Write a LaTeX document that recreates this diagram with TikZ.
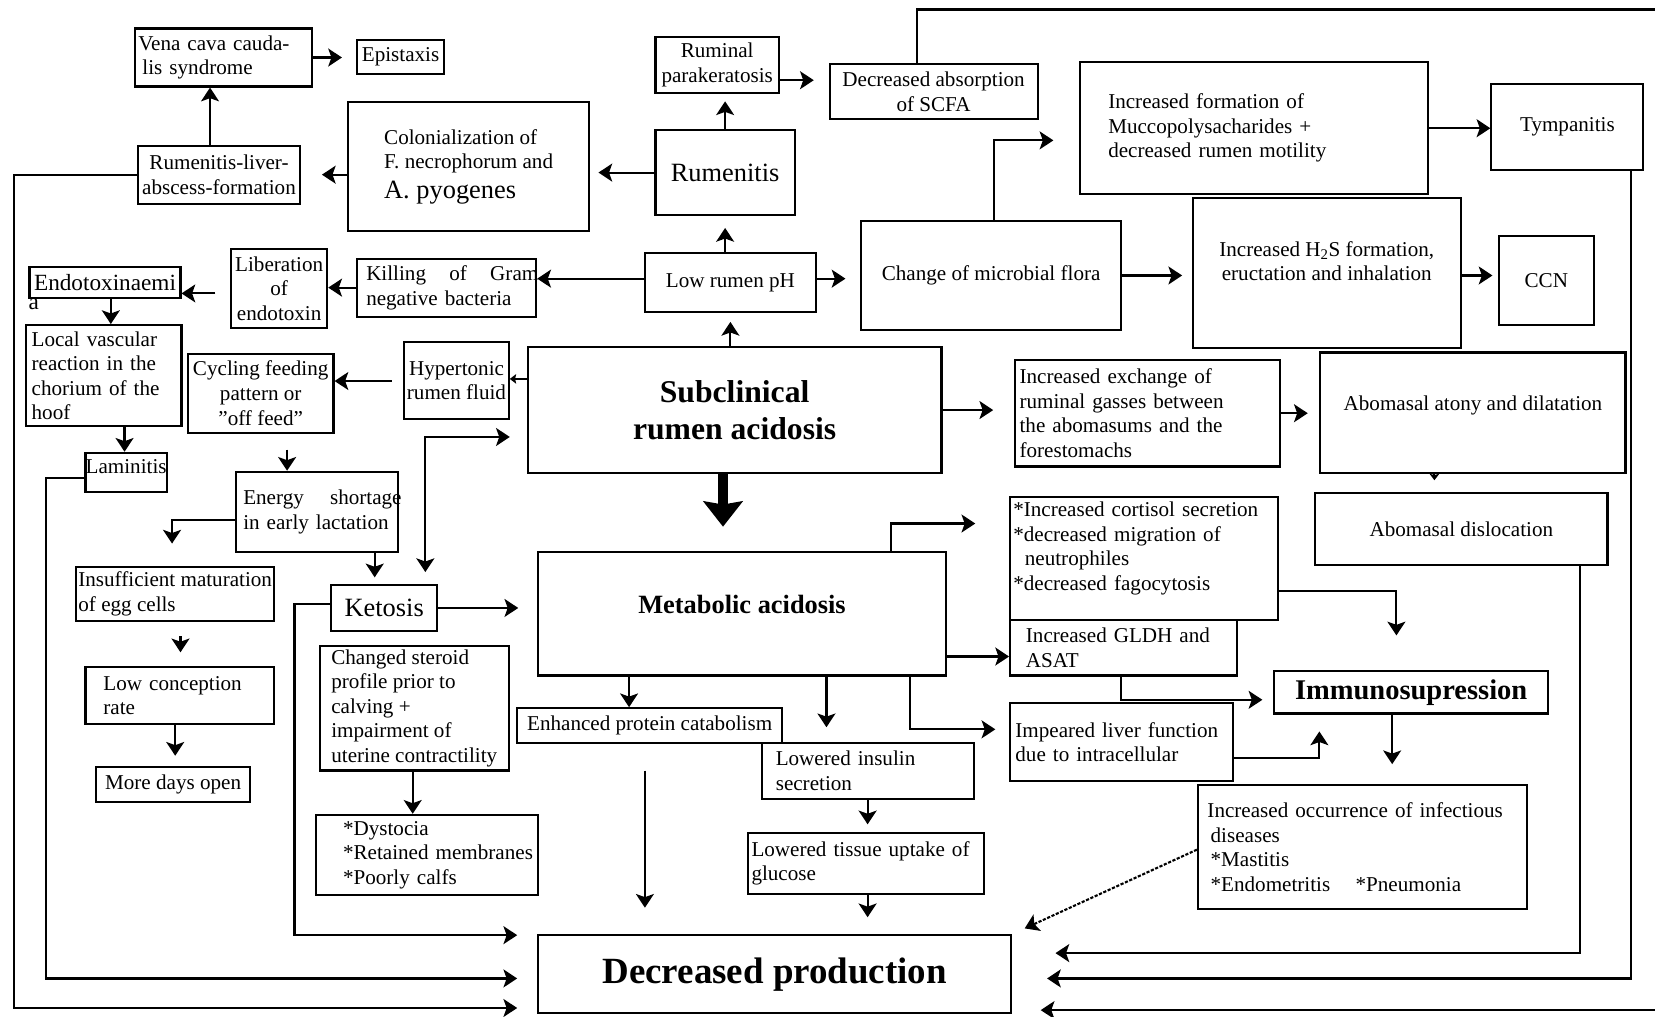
\documentclass[tikz,border=0pt]{standalone}
\usepackage{fontspec}
\setmainfont{Liberation Serif}
\usetikzlibrary{arrows.meta}

\begin{document}
\begin{tikzpicture}[x=1pt, y=-1pt]
    \tikzstyle{box} = [rectangle, draw=black, line width=2pt, inner xsep=2pt, inner ysep=1pt,
                       align=center, font=\fontsize{20}{23.3}\selectfont]
    \tikzstyle{big} = [font=\fontsize{25}{29}\selectfont]
    \tikzstyle{arrowline} = [-{Stealth[length=13pt, width=17pt, inset=3pt]}, line width=2pt]
    \tikzstyle{twoway} = [{Stealth[length=13pt, width=17pt, inset=3pt]}-{Stealth[length=13pt, width=17pt, inset=3pt]}, line width=2pt]
    \tikzstyle{smalltip} = [-{Stealth[length=6pt, width=9pt, inset=1pt]}, line width=2pt]

    \clip (0,0) rectangle (1568,963);

    % Top row
    \node[box, align=left, text width=162pt, inner xsep=3pt, minimum height=55pt] (vena) at (212,54.5) {Vena cava cauda-\\\hspace*{4pt}lis syndrome};
    \node[box, minimum width=83pt, minimum height=32pt] (epist) at (379.5,54) {Epistaxis};
    \node[box, minimum width=117pt, minimum height=53pt] (parak) at (679.5,61.5) {Ruminal\\parakeratosis};
    \node[box, minimum width=197pt, minimum height=52pt] (absorp) at (884.5,87) {Decreased absorption\\of SCFA};
    \node[box, align=left, text width=276pt, inner xsep=27pt, minimum height=125pt] (mucco) at (1188,121.5) {Increased formation of\\Muccopolysacharides +\\decreased rumen motility};
    \node[box, minimum width=144pt, minimum height=81pt] (tymp) at (1485,120.5) {Tympanitis};

    % Rumen
    \node[box, minimum width=153pt, minimum height=55pt] (liver) at (207.5,165.5) {Rumenitis-liver-\\abscess-formation};
    \node[box, align=left, minimum width=228pt, minimum height=122pt] (colon) at (444,158) {Colonialization of\\F. necrophorum and\\[5pt]{\fontsize{25}{29}\selectfont A. pyogenes}};
    \node[box, big, minimum width=132pt, minimum height=81pt] (rumen) at (687,163.5) {Rumenitis};
    \node[box, minimum width=246pt, minimum height=104pt] (flora) at (939,261) {Change of microbial flora};
    \node[box, minimum width=254pt, minimum height=142pt] (h2s) at (1257,259) {Increased H\textsubscript{2}S formation,\\eructation and inhalation\\\mbox{}};
    \node[box, minimum width=90pt, minimum height=84pt] (ccn) at (1465,266) {CCN};

    % Endotoxin
    \node[box, font=\fontsize{22}{25}\selectfont, minimum width=143pt, minimum height=29pt,
          label={[anchor=north west, inner sep=0pt, font=\fontsize{22}{25}\selectfont]south west:a}] (endo) at (99.5,267.5) {Endotoxinaemi};
    \node[box, minimum width=91pt, minimum height=75pt, inner xsep=1pt] (lib) at (264.5,273.5) {Liberation\\of\\endotoxin};
    \node[box, align=left, text width=152pt, inner xsep=9pt, minimum height=55pt] (kill) at (423,272.5) {\makebox[163pt][s]{Killing\hfill of\hfill Gram}\\negative bacteria};
    \node[box, minimum width=162pt, minimum height=56pt] (lowph) at (692,268) {Low rumen pH};

    % Left side
    \node[box, align=left, text width=137pt, inner xsep=5pt, minimum height=96pt] (vasc) at (98.5,356) {Local vascular\\reaction in the\\chorium of the\\hoof};
    \node[box, minimum width=99pt, minimum height=73pt, inner xsep=1pt] (hyper) at (432.5,360.5) {Hypertonic\\rumen fluid};
    \node[box, minimum width=138pt, minimum height=75pt, inner xsep=1pt] (cycle) at (247,372.5) {Cycling feeding\\pattern or\\”off feed”};
    \node[box, minimum width=77pt, minimum height=37pt, inner xsep=0pt] (lamin) at (119.5,447.5) {Laminitis\\[-12pt]\mbox{}};
    \node[box, align=left, text width=140pt, inner xsep=6.5pt, minimum height=76pt] (energy) at (300.5,485) {\makebox[150pt][s]{Energy\hfill shortage}\\in early lactation};
    \node[box, align=left, minimum width=188pt, minimum height=51pt, inner xsep=1pt] (insuff) at (166,562.5) {Insufficient maturation\\of egg cells};
    \node[box, big, minimum width=100pt, minimum height=44pt] (ket) at (364,576) {Ketosis};

    % Centre
    \node[box, font=\bfseries\fontsize{30}{35}\selectfont, minimum width=392pt, minimum height=119pt] (scra) at (696,388.5) {Subclinical\\rumen acidosis};
    \node[box, font=\bfseries\fontsize{25}{29}\selectfont, minimum width=386pt, minimum height=117pt] (meta) at (703,581.5) {Metabolic acidosis\\[-12pt]\mbox{}};

    % Right side
    \node[box, align=left, text width=243pt, inner xsep=4pt, minimum height=101pt] (exch) at (1087.5,391.5) {Increased exchange of\\ruminal gasses between\\the abomasums and the\\forestomachs};
    \node[box, minimum width=289pt, minimum height=114pt] (atony) at (1395.5,391) {Abomasal atony and dilatation\\[-5pt]\mbox{}};
    \node[box, align=left, text width=248pt, inner xsep=3pt, minimum height=116pt] (cort) at (1084,529) {{*}Increased cortisol secretion\\{*}decreased migration of\\\hspace*{11pt}neutrophiles\\{*}decreased fagocytosis\\\mbox{}};
    \node[box, minimum width=277pt, minimum height=68pt] (disloc) at (1384.5,501) {Abomasal dislocation};
    \node[box, align=left, text width=185pt, inner xsep=15pt, minimum height=53pt] (gldh) at (1064.5,613.5) {Increased GLDH and\\ASAT};
    \node[box, font=\bfseries\fontsize{27}{31}\selectfont, minimum width=260pt, minimum height=40pt] (immuno) at (1337,656) {Immunosupression};
    \node[box, align=left, text width=201pt, inner xsep=5pt, minimum height=74pt] (impliver) at (1062.5,703) {Impeared liver function\\due to intracellular};
    \node[box, align=left, text width=294pt, inner xsep=9pt, minimum height=117pt] (infect) at (1291,802.5) {Increased occurrence of infectious\\\hspace*{3pt}diseases\\\hspace*{3pt}*Mastitis\\\hspace*{3pt}*Endometritis\hspace{24pt}*Pneumonia};

    % Lower part
    \node[box, minimum width=251pt, minimum height=33pt] (protein) at (615.5,687.5) {Enhanced protein catabolism};
    \node[box, align=left, text width=175pt, inner xsep=13pt, minimum height=53pt] (insulin) at (822.5,730.5) {Lowered insulin\\secretion};
    \node[box, align=left, text width=217pt, inner xsep=3pt, minimum height=58pt] (tissue) at (820.5,818) {Lowered tissue uptake of\\glucose};
    \node[box, align=left, minimum width=179pt, minimum height=118pt] (steroid) at (392.5,671) {Changed steroid\\profile prior to\\calving +\\impairment of\\uterine contractility};
    \node[box, align=left, text width=203pt, inner xsep=4pt, minimum height=76pt] (dyst) at (404.5,810) {\hspace*{22pt}*Dystocia\\\hspace*{22pt}*Retained membranes\\\hspace*{22pt}*Poorly calfs};
    \node[box, align=left, text width=145pt, inner xsep=17pt, minimum height=54pt] (lowconc) at (170.5,659) {Low conception\\rate};
    \node[box, minimum width=146pt, minimum height=33pt] (moredays) at (164,743.5) {More days open};
    \node[box, font=\bfseries\fontsize{35}{40}\selectfont, minimum width=448pt, minimum height=74pt] (prod) at (734,923) {Decreased production};

    % Connections
    \draw[arrowline, shorten >=13pt] (vena.east) -- (vena.east -| epist.west);
    \draw[arrowline] (199,0 |- liver.north) -- (199,0 |- vena.south);
    \draw[arrowline, shorten >=20pt] (colon.west |- liver.east) -- (liver.east);
    \draw[arrowline, shorten >=8pt] (rumen.west) -- (rumen.west -| colon.east);
    \draw[arrowline, shorten >=7pt] (rumen.north) -- (rumen.north |- parak.south);
    \draw[arrowline, shorten >=14pt] (parak.east |- 0,76) -- (absorp.west |- 0,76);
    \draw[arrowline, shorten >=27pt] (869,0 |- absorp.north) |- (1600,9) |- (prod.east |- 0,957);
    \draw[arrowline, shorten >=11pt] (rumen.south |- lowph.north) -- (rumen.south);
    \draw[arrowline] (lowph.west |- 0,264) -- (kill.east |- 0,264);
    \draw[arrowline, shorten >=14pt] (lowph.east |- 0,264) -- (flora.west |- 0,264);
    \draw[arrowline, shorten >=8pt] (lowph.south |- scra.north) -- (lowph.south);
    \draw[arrowline, shorten >=24pt] (942,0 |- flora.north) |- (mucco.west |- 0,133);
    \draw[arrowline] (mucco.east) -- (mucco.east -| tymp.west);
    \draw[arrowline, shorten >=9pt] (flora.east) -- (flora.east -| h2s.west);
    \draw[arrowline, shorten >=5pt] (h2s.east |- 0,261) -- (ccn.west |- 0,261);
    \draw[arrowline, shorten >=33pt] (1545,0 |- tymp.south) |- (prod.east |- 0,927);
    \draw[arrowline] (kill.west) -- (kill.west -| lib.east);
    \draw[arrowline, shorten <=14pt] (lib.west |- 0,278) -- (endo.east |- 0,278);
    \draw[arrowline] (105,0 |- endo.south) -- (105,0 |- vasc.north);
    \draw[arrowline, shorten >=19pt] (liver.west) -| (13,955) -- (prod.west |- 0,955);
    \draw[arrowline] (118,0 |- vasc.south) -- (118,0 |- lamin.north);
    \draw[arrowline, shorten >=19pt] (lamin.west |- 0,453) -| (44,927) -- (prod.west |- 0,927);
    \draw[arrowline, shorten <=11pt] (hyper.west |- 0,361) -- (cycle.east |- 0,361);
    \draw[smalltip] (scra.west |- 0,359) -- (hyper.east |- 0,359);
    \draw[twoway, shorten <=11pt, shorten >=16pt] (403,0 |- ket.north) |- (scra.west |- 0,414);
    \draw[arrowline, shorten <=15pt] (272,0 |- cycle.south) -- (272,0 |- energy.north);
    \draw[arrowline, shorten >=21pt] (energy.west |- 0,493) -| (163,0 |- insuff.north);
    \draw[arrowline, shorten >=6pt] (355,0 |- energy.south) -- (355,0 |- ket.north);
    \draw[arrowline, shorten <=14pt, shorten >=13pt] (171,0 |- insuff.south) -- (171,0 |- lowconc.north);
    \draw[arrowline, shorten >=10pt] (166,0 |- lowconc.south) -- (166,0 |- moredays.north);
    \draw[arrowline, shorten >=18pt] (ket.east) -- (ket.east -| meta.west);
    \draw[arrowline, shorten >=19pt] (ket.west |- 0,572) -| (279,886) -- (prod.west |- 0,886);
    \draw[arrowline] (391,0 |- steroid.south) -- (391,0 |- dyst.north);
    \draw[-{Stealth[length=24pt, width=37pt, inset=3pt]}, line width=10pt, shorten >=23pt] (685,0 |- scra.south) -- (685,0 |- meta.north);
    \draw[arrowline, shorten >=20pt] (scra.east) -- (scra.east -| exch.west);
    \draw[arrowline, shorten >=11pt] (exch.east) -- (exch.east -| atony.west);
    \draw[smalltip, shorten >=11pt] (1359,0 |- atony.south) -- (1359,0 |- disloc.north);
    \draw[arrowline, shorten >=32pt] (844,0 |- meta.north) |- (cort.west |- 0,496);
    \draw[arrowline] (meta.east |- 0,622) -- (gldh.west |- 0,622);
    \draw[arrowline, shorten >=33pt] (cort.east |- 0,560) -| (1323,0 |- immuno.north);
    \draw[arrowline, shorten >=10pt] (1062,0 |- gldh.south) |- (immuno.west |- 0,663);
    \draw[arrowline, shorten >=16pt] (impliver.east |- 0,718) -| (1250,0 |- immuno.south);
    \draw[arrowline, shorten >=19pt] (1319,0 |- immuno.south) -- (1319,0 |- infect.north);
    \draw[arrowline, dash pattern=on 3pt off 1.5pt, shorten >=13pt] (infect.west |- 0,805) -- (prod.north east);
    \draw[arrowline] (596,0 |- meta.south) -- (596,0 |- protein.north);
    \draw[arrowline, shorten >=14pt] (783,0 |- meta.south) -- (783,0 |- insulin.north);
    \draw[arrowline, shorten >=13pt] (862,0 |- meta.south) |- (impliver.west |- 0,691);
    \draw[arrowline, shorten <=25pt, shorten >=25pt] (611,0 |- protein.south) -- (611,0 |- prod.north);
    \draw[arrowline, shorten >=7pt] (822,0 |- insulin.south) -- (822,0 |- tissue.north);
    \draw[arrowline, shorten >=16pt] (822,0 |- tissue.south) -- (822,0 |- prod.north);
    \draw[arrowline, shorten >=41pt] (1497,0 |- disloc.south) |- (prod.east |- 0,903);
\end{tikzpicture}
\end{document}
